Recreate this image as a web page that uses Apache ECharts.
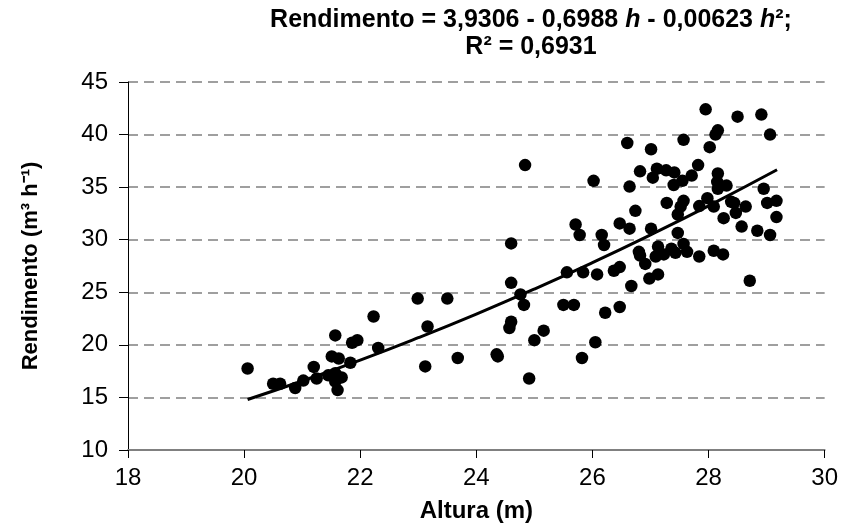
<!DOCTYPE html>
<html>
<head>
<meta charset="utf-8">
<script src="https://cdn.jsdelivr.net/npm/echarts@6/dist/echarts.min.js"></script>
<style>
  html, body { margin: 0; padding: 0; background: #fff; }
  #chart { width: 841px; height: 528px; }
</style>
</head>
<body>
<div id="chart"></div>
<script>
// observed points: altura (m) and rendimento (m3/h)
const altura = [
  20.06, 20.5, 20.62, 20.88, 21.02, 21.2, 21.25, 21.57, 21.51, 21.63,
  21.45, 21.57, 21.68, 21.57, 21.61, 21.83, 21.86, 21.95, 22.23, 22.31,
  22.99, 23.12, 23.16, 23.5, 23.68, 24.35, 24.37, 24.6, 24.6, 24.76,
  24.82, 24.6, 24.57, 25.0, 25.16, 24.91, 24.84, 25.5, 25.68, 25.56,
  25.84, 25.71, 25.78, 25.82, 26.05, 26.08, 26.16, 26.2, 26.22, 26.37,
  26.47, 26.47, 26.47, 26.64, 26.67, 26.8, 26.82, 26.91, 26.98, 27.13,
  27.13, 27.09, 27.23, 27.36, 27.43, 27.57, 27.63, 27.84, 28.09, 28.25,
  28.71, 27.95, 28.5, 28.91, 29.06, 28.12, 28.16, 28.02, 27.57, 26.6,
  27.01, 26.02, 26.82, 27.11, 27.27, 27.41, 27.04, 27.4, 27.55, 27.71,
  27.82, 28.16, 28.15, 28.16, 28.31, 26.64, 28.95, 29.01, 29.17, 29.17,
  29.06, 28.84, 28.57, 28.64, 28.47, 28.39, 28.44, 28.26, 28.09, 27.98,
  27.84, 27.57, 27.52, 27.47, 27.28, 26.74, 27.01, 27.47
]
const rendimento = [
  17.75, 16.3, 16.3, 15.9, 16.6, 17.9, 16.8, 20.9, 18.9, 18.7,
  17.1, 17.3, 16.9, 16.5, 15.7, 18.3, 20.2, 20.45, 22.7, 19.7,
  24.4, 17.95, 21.75, 24.4, 18.75, 19.1, 18.9, 29.65, 25.9, 24.8,
  23.8, 22.2, 21.6, 20.45, 21.35, 16.8, 37.1, 23.8, 23.8, 26.9,
  26.9, 31.45, 30.45, 18.75, 20.25, 26.7, 30.45, 29.5, 23.05, 27.05,
  27.4, 23.6, 31.55, 31.05, 25.6, 28.85, 28.5, 27.7, 26.3, 26.7,
  29.35, 28.4, 28.6, 29.15, 28.75, 29.6, 28.85, 28.4, 28.95, 28.6,
  26.1, 42.4, 41.7, 41.9, 40.0, 40.0, 40.4, 38.8, 39.5, 39.2,
  38.6, 35.6, 36.5, 36.75, 36.6, 36.4, 35.9, 35.2, 35.6, 36.1,
  37.1, 36.3, 35.5, 34.85, 35.15, 35.05, 34.85, 33.5, 33.7, 32.15,
  30.45, 30.85, 31.25, 33.15, 32.55, 33.6, 33.5, 32.05, 33.15, 33.95,
  33.2, 33.7, 33.15, 32.4, 33.5, 32.75, 31.05, 30.65
]

// fitted curve
const curveX = [20.06, 21, 22, 23, 24, 25, 26, 27, 28, 29.18]
const curveY = [14.8, 16.56, 18.55, 20.68, 22.93, 25.31, 27.82, 30.46, 33.22, 36.65]

const xMin = 18, xMax = 30, xStep = 2
const yMin = 10, yMax = 45, yStep = 5

const chart = echarts.init(document.getElementById('chart'))
const font = 'Liberation Sans, Arial, sans-serif'

chart.setOption({
  animation: false,
  backgroundColor: '#fff',
  grid: { left: 128, right: 16, top: 82, bottom: 78 },
  graphic: [
    {
      type: 'text',
      x: 531,
      y: 7,
      style: {
        text: 'Rendimento = 3,9306 - 0,6988 {i|h} - 0,00623 {i|h}²;\nR² = 0,6931',
        font: 'bold 25px ' + font,
        fill: '#000',
        align: 'center',
        verticalAlign: 'top',
        lineHeight: 27,
        rich: {
          i: { fontStyle: 'italic', fontWeight: 'bold', fontSize: 25, fontFamily: font, lineHeight: 27 }
        }
      }
    }
  ],
  xAxis: {
    type: 'value',
    min: xMin,
    max: xMax,
    interval: xStep,
    name: 'Altura (m)',
    nameLocation: 'middle',
    nameGap: 49,
    nameTextStyle: { color: '#000', fontSize: 24, fontWeight: 'bold', fontFamily: font },
    axisLine: { lineStyle: { color: '#808080', width: 2 } },
    axisTick: { inside: false, length: 8, lineStyle: { color: '#000', width: 1 } },
    axisLabel: { color: '#000', fontSize: 24, fontFamily: font, margin: 16 },
    splitLine: { show: false }
  },
  yAxis: {
    type: 'value',
    min: yMin,
    max: yMax,
    interval: yStep,
    name: 'Rendimento (m³ h⁻¹)',
    nameLocation: 'middle',
    nameGap: 86,
    nameRotate: 90,
    nameTextStyle: { color: '#000', fontSize: 22, fontWeight: 'bold', fontFamily: font },
    axisLine: { show: true, lineStyle: { color: '#000', width: 1 } },
    axisTick: { show: true, length: 9, lineStyle: { color: '#000', width: 1 } },
    axisLabel: { color: '#000', fontSize: 24, fontFamily: font, margin: 20 },
    splitLine: { lineStyle: { color: '#808080', width: 1.5, type: [10, 6] } }
  },
  series: [
    {
      name: 'observado',
      type: 'scatter',
      data: altura.map((x, i) => [x, rendimento[i]]),
      symbol: 'circle',
      symbolSize: 12.5,
      itemStyle: { color: '#000', opacity: 1 },
      z: 3
    },
    {
      name: 'ajuste',
      type: 'line',
      data: curveX.map((x, i) => [x, curveY[i]]),
      smooth: true,
      showSymbol: false,
      lineStyle: { color: '#000', width: 3 },
      z: 4
    }
  ]
})
</script>
</body>
</html>
